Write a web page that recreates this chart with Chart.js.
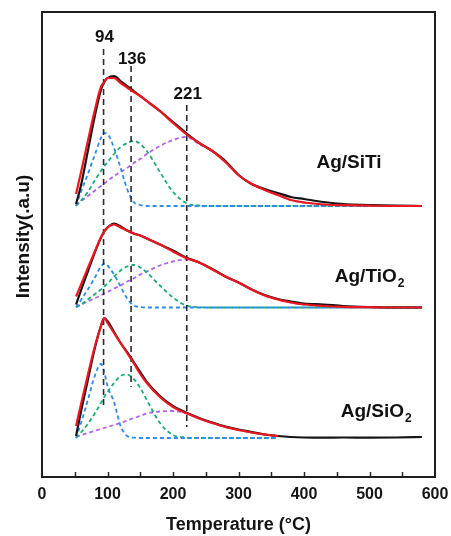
<!DOCTYPE html>
<html><head><meta charset="utf-8">
<script src="https://cdn.jsdelivr.net/npm/chart.js@4.4.1/dist/chart.umd.min.js"></script>
<style>html,body{margin:0;padding:0;background:#fff}canvas{display:block}</style>
</head><body>
<canvas id="c" width="451" height="536"></canvas>
<script>
// Temperatures (°C) at which the curves were read
const temps = [52,60,70,80,90,95,100,110,120,130,140,150,160,180,200,220,240,260,280,300,320,340,360,380,400,430,460,500,540,580];

// Sample names and vertical stacking offsets (intensity units)
const sampleNames = ['Ag/SiTi', 'Ag/TiO', 'Ag/SiO'];
const sampleSubs = ['', '2', '2'];
const sampleOffsets = [271, 169.5, 39];

// Ag/SiTi
const sitiExp  = [2,22,55,88,116,124,128,130,125,120,115,110,105,95,84,73,63,55,45,31,22,17,13,9,7,4,2,1,0.3,0];
const sitiFit  = [12,35,65,94,119,124,128,128,123,118.5,114,110,105,95,83,72,63,55,44,31,22,16,11,6,3.5,1.5,0.8,0.3,0,0];
const sitiP94  = [0,15,32,50,68,73,72,58,38,17,4,1,0,0,0,0,0,0,0,0,0,0,0,0,0,0,0,0,0,0];
const sitiP136 = [0,6,14,25,35,40,44,52,59,63,65,62,55,34,14,3,0.5,0,0,0,0,0,0,0,0,0,0,0,0,0];
const sitiP221 = [1,5,10,15,20,22.5,25,30,34,38,43,47,52,60,66,69,62,55,44,31,22,16,11,6,3.5,1.5,0.8,0.3,0,0];

// Ag/TiO2
const tiExp  = [3,18,36,54,70,76,80,84,81,77,74,72,69,63,57,50,45,38.5,31,25,18,12.5,8.5,6,4,3,1.5,0.5,0,0];
const tiFit  = [11,23.5,39.5,55,70,76,80,83,80,77,74,72,69,63,56,49.5,45,38,31,25,18,12,8,5,3,1.5,0.7,0.3,0,0];
const tiP94  = [0,8,18,29,41,44,42,33,21,9,2,0.5,0,0,0,0,0,0,0,0,0,0,0,0,0,0,0,0,0,0];
const tiP136 = [0,3,8,13,18,21,24,31,37,41,42.5,40,35,22,10,2,0.3,0,0,0,0,0,0,0,0,0,0,0,0,0];
const tiP221 = [1,3,6,9,12,14,15.5,19,22,26,29,33,36,42,46,48,45,38,31,25,18,12,8,5,3,1.5,0.7,0.3,0,0];

// Ag/SiO2
const siExp  = [2,28,58,88,112,120,117,106,95,86,76,66,56,42,32,25.5,20,15.5,11.5,8.5,6,3.5,2,1,0.5,0.3,0.5,0.3,0.5,1];
const siFit  = [12,35,63,90,112,120,115,105,95,85,75,64,55,41,31,25,19.5,15,11,8,5.5,3.5,1.8,null,null,null,null,null,null,null];
const siP94  = [0,16,38,61,74,66,52,36,12,2,0.3,0,0,0,0,0,0,0,0,0,0,0,0,null,null,null,null,null,null,null];
const siP136 = [0,6,14,24,35,41,46,55,62,63.5,59,50,38,15,3,0.5,0,0,0,0,0,0,0,null,null,null,null,null,null,null];
const siP221 = [1,3,5,7,9,10,11,13,15,17.5,20,22,24.5,26.5,27,24.5,19.5,15,11,8,5.5,3.5,1.8,null,null,null,null,null,null,null];

// Peak markers
const peakTemps = [94, 136, 221];
const peakTop = [428, 411, 372];
const peakBottom = [72, 90, 50];
const peakLabels = ['94', '136', '221'];
const peakLabelY = [440, 418, 383];

// Sample label anchors (left temperature, intensity)
const sampleLabelT = [419, 447, 456];
const sampleLabelY = [314, 200, 65];

const xTicks = [0,100,200,300,400,500,600];

const RED = 'rgb(238,22,30)', BLACK = '#151515', BLUE = 'rgb(45,140,235)', GREEN = 'rgb(30,170,120)', PURPLE = 'rgb(175,100,235)';

function series(arr, off){ return temps.map((t,i)=>({x:t, y: arr[i]==null ? null : off + arr[i]})); }
function line(data, color, width, dash){
  return {data, borderColor:color, borderWidth:width, borderDash:dash||[], pointRadius:0, fill:false,
          cubicInterpolationMode:'monotone', spanGaps:false};
}

const groups = [
  [sitiExp, sitiFit, sitiP94, sitiP136, sitiP221],
  [tiExp, tiFit, tiP94, tiP136, tiP221],
  [siExp, siFit, siP94, siP136, siP221]
];

const datasets = [];
groups.forEach((g,k)=>datasets.push(line(series(g[1], sampleOffsets[k]), RED, 2.2)));
groups.forEach((g,k)=>datasets.push(line(series(g[0], sampleOffsets[k]), BLACK, 2.2)));
peakTemps.forEach((t,i)=>datasets.push({data:[{x:t,y:peakTop[i]},{x:t,y:peakBottom[i]}], borderColor:'#2a2a2a', borderWidth:1.6,
  borderDash:[6,4], pointRadius:0, fill:false, tension:0}));
groups.forEach((g,k)=>{
  datasets.push(line(series(g[2], sampleOffsets[k]), BLUE, 1.8, [4,3]));
  datasets.push(line(series(g[3], sampleOffsets[k]), GREEN, 1.8, [4,3]));
  datasets.push(line(series(g[4], sampleOffsets[k]), PURPLE, 1.8, [4,3]));
});

const FONT = '"Liberation Sans", Arial, Helvetica, sans-serif';

const deco = {
  id:'deco',
  afterDraw(chart){
    const {ctx, chartArea:a, scales:{x, y}} = chart;
    ctx.save();
    // minor/major inward ticks
    ctx.strokeStyle = '#222'; ctx.lineWidth = 1.5;
    for (let v = 50; v < 600; v += 50){
      const px = Math.round(x.getPixelForValue(v)) + 0.5;
      ctx.beginPath(); ctx.moveTo(px, a.bottom); ctx.lineTo(px, a.bottom - 5); ctx.stroke();
    }
    // frame
    ctx.lineWidth = 2; ctx.strokeStyle = '#1e1e1e';
    ctx.strokeRect(a.left, a.top, a.right - a.left, a.bottom - a.top);
    // peak labels
    ctx.fillStyle = '#111';
    ctx.font = 'bold 17px ' + FONT;
    ctx.textAlign = 'center'; ctx.textBaseline = 'middle';
    peakLabels.forEach((s,i)=>ctx.fillText(s, x.getPixelForValue(peakTemps[i]) + 1, y.getPixelForValue(peakLabelY[i])));
    // sample labels
    ctx.textAlign = 'left';
    sampleNames.forEach((s,i)=>{
      const px = x.getPixelForValue(sampleLabelT[i]), py = y.getPixelForValue(sampleLabelY[i]);
      ctx.font = 'bold 19px ' + FONT;
      ctx.fillText(s, px, py);
      if (sampleSubs[i]){
        const w = ctx.measureText(s).width;
        ctx.font = 'bold 12px ' + FONT;
        ctx.fillText(sampleSubs[i], px + w + 1, py + 7);
      }
    });
    // y title
    ctx.translate(24, (a.top + a.bottom)/2 - 8);
    ctx.rotate(-Math.PI/2);
    ctx.textAlign = 'center';
    ctx.font = 'bold 19px ' + FONT;
    ctx.fillText('Intensity(.a.u)', 0, 0);
    ctx.restore();
  }
};

new Chart(document.getElementById('c'), {
  type:'line',
  data:{datasets},
  options:{
    responsive:false, animation:false, devicePixelRatio:1,
    layout:{padding:{left:0, right:16, top:12, bottom:0}},
    plugins:{legend:{display:false}, tooltip:{enabled:false}},
    scales:{
      x:{type:'linear', min:0, max:600,
         afterFit(s){ s.height = 59; s.paddingLeft = 0; s.paddingRight = 0; },
         afterBuildTicks(s){ s.ticks = xTicks.map(v=>({value:v})); },
         grid:{display:false, drawTicks:false}, border:{display:false},
         ticks:{padding:8, color:'#151515', font:{family:FONT, size:16, weight:'bold'}, maxRotation:0, autoSkip:false},
         title:{display:true, text:'Temperature (°C)', color:'#151515', padding:{top:0, bottom:0},
                font:{family:FONT, size:18, weight:'bold'}}},
      y:{type:'linear', min:0, max:465,
         afterFit(s){ s.width = 42; },
         grid:{display:false, drawTicks:false}, border:{display:false},
         ticks:{display:false}}
    }
  },
  plugins:[deco]
});
</script>
</body></html>
